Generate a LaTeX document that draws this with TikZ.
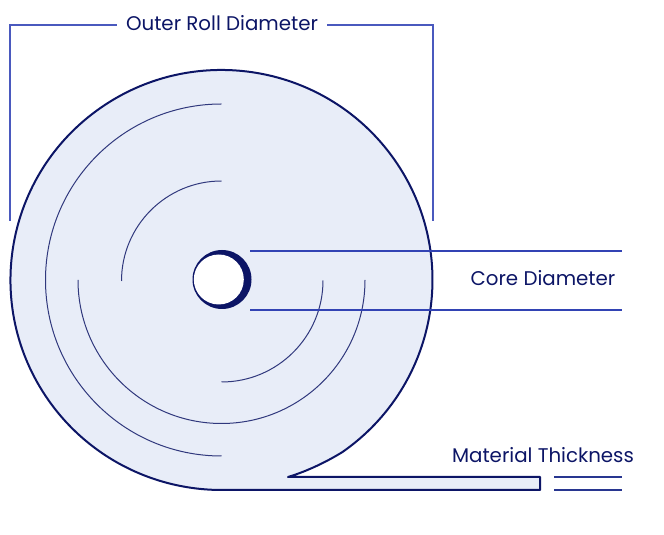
\documentclass[tikz,border=0pt]{standalone}
\usepackage{fontspec}
\setmainfont{Poppins}
\definecolor{rollfill}{HTML}{E8EDF8}
\definecolor{rollline}{HTML}{0C1566}
\definecolor{measline}{HTML}{3243B4}
\definecolor{bracketline}{HTML}{4A59BE}
\tikzset{
  rolledge/.style={draw=rollline, fill=rollfill, line width=1.5pt, line join=round},
  wrapline/.style={draw=rollline!85, line width=.75pt},
  measure/.style={draw=measline, line width=.9pt},
  caption/.style={text=rollline, font=\fontsize{14.85}{18}\selectfont, inner sep=0pt}
}
\begin{document}
\begin{tikzpicture}[x=.75pt,y=.75pt]
\useasboundingbox (0,0) rectangle (664,535);
% the roll and its tail
\draw[rolledge] (540,58) -- (288,58) .. controls (308,64) and (328,74) .. (342.5,83)
  arc [start angle=-55, end angle=270, x radius=211, y radius=210] -- (540,45) -- cycle;
% the wraps
\draw[wrapline] (221.5,431) arc (90:270:176);
\draw[wrapline] (221.5,354) arc (90:180:100);
\draw[wrapline] (78,255) arc (180:360:143.5);
\draw[wrapline] (221.5,153) arc (270:360:101.5);
% the core
\fill[rollline] (222,255.5) circle [radius=29.5];
\fill[white] (218.8,255.5) circle [radius=25];
% outer diameter
\node[caption] (outer) at (222,512) {Outer Roll Diameter};
\coordinate (outerl) at (10,314);
\coordinate (outerr) at (433,314);
\draw[measure,draw=bracketline] (outerl) |- ([xshift=-6.75pt]outer.west |- 0,510);
\draw[measure,draw=bracketline] (outerr) |- ([xshift=6.75pt]outer.east |- 0,510);
% core diameter
\node[caption] (core) at (543,257) {Core Diameter};
\draw[measure] (250,284) -- (622,284);
\draw[measure] (250,225) -- (622,225);
% thickness
\node[caption] (thick) at (543,80) {Material Thickness};
\draw[measure,draw=measline!80!black] (554,58) -- (622,58);
\draw[measure,draw=measline!80!black] (554,45) -- (622,45);
\end{tikzpicture}
\end{document}
